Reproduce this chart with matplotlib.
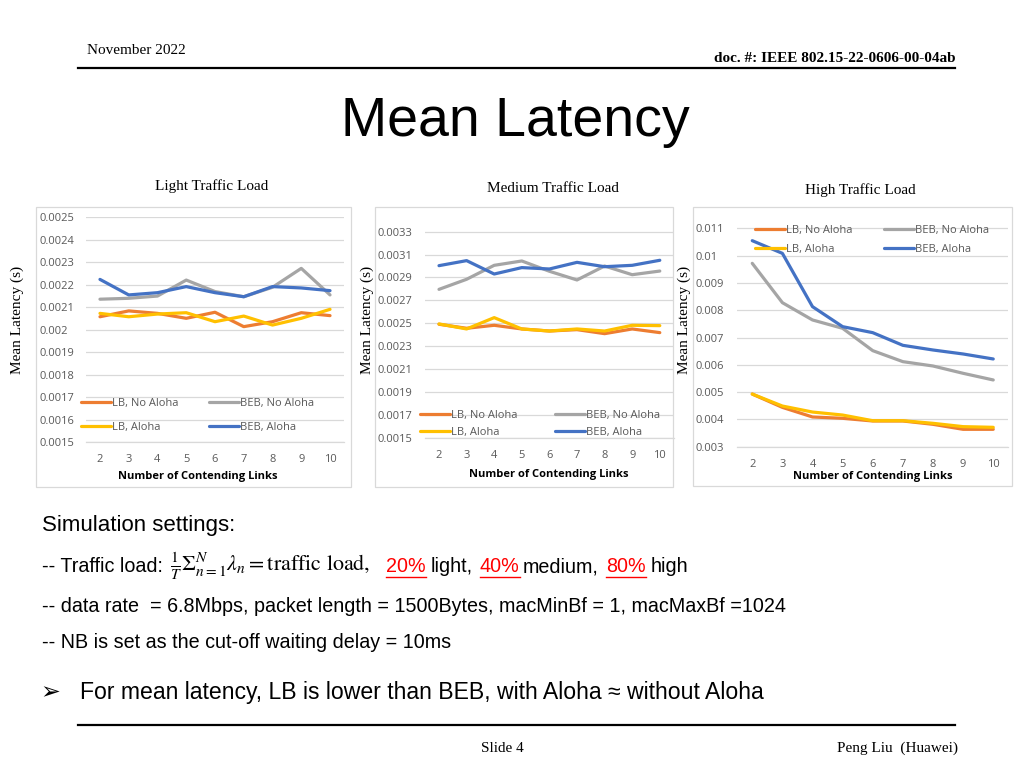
import matplotlib
matplotlib.use('Agg')
import matplotlib.pyplot as plt
from matplotlib.patches import Rectangle
from matplotlib.lines import Line2D

# ---------------- data ----------------
links = [2, 3, 4, 5, 6, 7, 8, 9, 10]
series_names = ['LB, No Aloha', 'LB, Aloha', 'BEB, No Aloha', 'BEB, Aloha']
series_colors = ['#ED7D31', '#FFC000', '#A5A5A5', '#4472C4']

light_lb_no = [0.002058, 0.002084, 0.002073, 0.002051, 0.002078, 0.002014, 0.002036, 0.002076, 0.002063]
light_lb_al = [0.002073, 0.002058, 0.002070, 0.002076, 0.002036, 0.002061, 0.002021, 0.002051, 0.002091]
light_beb_no = [0.002136, 0.002140, 0.002150, 0.002221, 0.002170, 0.002147, 0.002189, 0.002273, 0.002155]
light_beb_al = [0.002224, 0.002155, 0.002165, 0.002192, 0.002165, 0.002147, 0.002192, 0.002186, 0.002174]

med_lb_no = [0.002491, 0.002456, 0.002482, 0.002450, 0.002432, 0.002444, 0.002409, 0.002450, 0.002418]
med_lb_al = [0.002494, 0.002450, 0.002549, 0.002450, 0.002432, 0.002450, 0.002432, 0.002482, 0.002479]
med_beb_no = [0.002796, 0.002884, 0.003006, 0.003044, 0.002954, 0.002878, 0.003000, 0.002924, 0.002956]
med_beb_al = [0.003003, 0.003047, 0.002930, 0.002986, 0.002974, 0.003032, 0.002994, 0.003006, 0.003050]

high_lb_no = [0.004929, 0.004441, 0.004089, 0.004040, 0.003942, 0.003942, 0.003820, 0.003637, 0.003637]
high_lb_al = [0.004929, 0.004490, 0.004270, 0.004160, 0.003952, 0.003952, 0.003857, 0.003735, 0.003710]
high_beb_no = [0.009718, 0.008277, 0.007643, 0.007337, 0.006519, 0.006116, 0.005957, 0.005689, 0.005445]
high_beb_al = [0.010548, 0.010084, 0.008131, 0.007398, 0.007178, 0.006714, 0.006543, 0.006397, 0.006214]

light_yticks = [0.0015, 0.0016, 0.0017, 0.0018, 0.0019, 0.0020, 0.0021, 0.0022, 0.0023, 0.0024, 0.0025]
light_ylabels = ['0.0015', '0.0016', '0.0017', '0.0018', '0.0019', '0.002', '0.0021', '0.0022', '0.0023', '0.0024', '0.0025']
med_yticks = [0.0015, 0.0017, 0.0019, 0.0021, 0.0023, 0.0025, 0.0027, 0.0029, 0.0031, 0.0033]
med_ylabels = ['0.0015', '0.0017', '0.0019', '0.0021', '0.0023', '0.0025', '0.0027', '0.0029', '0.0031', '0.0033']
high_yticks = [0.003, 0.004, 0.005, 0.006, 0.007, 0.008, 0.009, 0.010, 0.011]
high_ylabels = ['0.003', '0.004', '0.005', '0.006', '0.007', '0.008', '0.009', '0.01', '0.011']

# ---------------- figure ----------------
W, H = 1024, 768
fig = plt.figure(figsize=(W / 100, H / 100), dpi=100)
fig.patch.set_facecolor('white')

def fx(x):
    return x / W

def fy(y):
    return 1 - y / H

SERIF = ['Liberation Serif', 'DejaVu Serif']
SANS = ['Liberation Sans', 'DejaVu Sans']
CAL = ['Open Sans', 'DejaVu Sans']
GRID = '#D9D9D9'
TICKC = '#595959'
TFS = 8

# header / footer
fig.text(fx(87), fy(50), 'November 2022', family=SERIF, fontsize=11, ha='left', va='center')
fig.text(fx(955), fy(58), 'doc. #: IEEE 802.15-22-0606-00-04ab', family=SERIF, fontsize=11,
         fontweight='bold', ha='right', va='center')
fig.add_artist(Line2D([fx(78), fx(955)], [fy(68), fy(68)], color='black', lw=1.6))
fig.text(fx(515), fy(122), 'Mean Latency', family=SANS, fontsize=40, ha='center', va='center')
fig.add_artist(Line2D([fx(78), fx(955)], [fy(725), fy(725)], color='black', lw=1.6))
fig.text(fx(502), fy(748), 'Slide 4', family=SERIF, fontsize=11, ha='center', va='center')
fig.text(fx(958), fy(748), 'Peng Liu  (Huawei)', family=SERIF, fontsize=11, ha='right', va='center')

# ---------------- charts ----------------
charts = [
    dict(title='Light Traffic Load', tx=212, ty=186,
         box=(36, 207, 351, 487),
         ax=(85.6, 217.3, 258.8, 225.0), ylim=(0.0015, 0.0025),
         yticks=light_yticks, ylabels=light_ylabels, ylab_x=40,
         data=[light_lb_no, light_lb_al, light_beb_no, light_beb_al],
         leg=(81, 398), colsp=2.75, labsp=1.2,
         xlab=(198, 477), ylabel_x=17),
    dict(title='Medium Traffic Load', tx=553, ty=189,
         box=(375, 207, 673, 487),
         ax=(425.2, 214.5, 248.4, 223.2), ylim=(0.0015, 0.00345),
         yticks=med_yticks, ylabels=med_ylabels, ylab_x=377,
         data=[med_lb_no, med_lb_al, med_beb_no, med_beb_al],
         leg=(420, 410), colsp=3.4, labsp=0.55,
         xlab=(549, 475), ylabel_x=367),
    dict(title='High Traffic Load', tx=860, ty=190,
         box=(693, 207, 1012, 486),
         ax=(737.2, 214.7, 271.1, 232.0), ylim=(0.003, 0.0115),
         yticks=high_yticks, ylabels=high_ylabels, ylab_x=696,
         data=[high_lb_no, high_lb_al, high_beb_no, high_beb_al],
         leg=(755, 225), colsp=2.8, labsp=0.75,
         xlab=(873, 477), ylabel_x=684),
]

for c in charts:
    x0, y0, x1, y1 = c['box']
    fig.add_artist(Rectangle((fx(x0), fy(y1)), (x1 - x0) / W, (y1 - y0) / H,
                             transform=fig.transFigure, fill=False, edgecolor=GRID, lw=0.9))
    fig.text(fx(c['tx']), fy(c['ty']), c['title'], family=SERIF, fontsize=11, ha='center', va='center')
    fig.text(fx(c['ylabel_x']), fy(320), 'Mean Latency (s)', family=SERIF, fontsize=11,
             rotation=90, ha='center', va='center')

    l, t, w, h = c['ax']
    ax = fig.add_axes([fx(l), fy(t + h), w / W, h / H])
    ax.set_facecolor('none')
    for name, col, vals in zip(series_names, series_colors, c['data']):
        ax.plot(links, vals, color=col, lw=2.3, label=name, solid_capstyle='round',
                solid_joinstyle='round')
    ax.set_xlim(1.5, 10.5)
    ax.set_ylim(*c['ylim'])
    ax.set_xticks(links)
    ax.set_xticklabels([str(v) for v in links])
    ax.set_yticks(c['yticks'])
    ax.set_yticklabels(c['ylabels'])
    ax.grid(axis='y', color=GRID, lw=0.9)
    ax.set_axisbelow(True)
    for s in ['top', 'left', 'right']:
        ax.spines[s].set_visible(False)
    ax.spines['bottom'].set_color(GRID)
    ax.spines['bottom'].set_linewidth(0.9)
    ypad = (l - c['ylab_x']) * 72 / 100
    ax.tick_params(axis='y', length=0, pad=ypad, labelsize=TFS, labelcolor=TICKC)
    ax.tick_params(axis='x', length=0, pad=8.5, labelsize=TFS, labelcolor=TICKC)
    for lab in ax.get_yticklabels():
        lab.set_horizontalalignment('left')
        lab.set_family(CAL)
    for lab in ax.get_xticklabels():
        lab.set_family(CAL)
    fig.text(fx(c['xlab'][0]), fy(c['xlab'][1]), 'Number of Contending Links', family=CAL,
             fontsize=TFS, fontweight='bold', ha='center', va='center')
    lx, ly = c['leg']
    ax.legend(loc='upper left', bbox_to_anchor=(fx(lx), fy(ly)), bbox_transform=fig.transFigure,
              ncol=2, frameon=False, prop={'family': CAL, 'size': TFS},
              handlelength=2.7, handletextpad=0.1, columnspacing=c['colsp'],
              labelspacing=c['labsp'], borderpad=0, borderaxespad=0, labelcolor=TICKC)

# ---------------- text block ----------------
plt.rcParams['mathtext.fontset'] = 'stix'
fs = 14.2
fig.text(fx(42), fy(526), 'Simulation settings:', family=SANS, fontsize=16, ha='left', va='center')
fig.text(fx(42), fy(567), '-- Traffic load:', family=SANS, fontsize=fs, ha='left', va='center')
fig.text(fx(170), fy(566), r'$\frac{1}{T}\Sigma_{n=1}^{N}\lambda_n = \mathrm{traffic\ load,}$',
         fontsize=15.8, ha='left', va='center')
segments = [('20%', 386, 'red'), ('light,', 431, 'black'), ('40%', 480, 'red'),
            ('medium,', 523, 'black'), ('80%', 606, 'red'), ('high', 651, 'black')]
red_texts = []
for s, x, col in segments:
    t = fig.text(fx(x), fy(567), s, family=SANS, fontsize=fs, color=col, ha='left', va='center')
    if col == 'red':
        red_texts.append(t)
fig.canvas.draw()
r = fig.canvas.get_renderer()
for t in red_texts:
    bb = t.get_window_extent(renderer=r)
    fig.add_artist(Line2D([bb.x0 / W, bb.x1 / W], [fy(577), fy(577)], color='red', lw=1.0))

fig.text(fx(42), fy(606), '-- data rate  = 6.8Mbps, packet length = 1500Bytes, macMinBf = 1, macMaxBf =1024',
         family=SANS, fontsize=fs, ha='left', va='center')
fig.text(fx(42), fy(642), '-- NB is set as the cut-off waiting delay = 10ms',
         family=SANS, fontsize=fs, ha='left', va='center')
fig.text(fx(40), fy(692), '\u27A2', family=['DejaVu Sans'], fontsize=17, ha='left', va='center')
fig.text(fx(80), fy(692), 'For mean latency, LB is lower than BEB, with Aloha \u2248 without Aloha',
         family=SANS, fontsize=16.6, ha='left', va='center')

fig.savefig('out.png', dpi=100, facecolor='white')
